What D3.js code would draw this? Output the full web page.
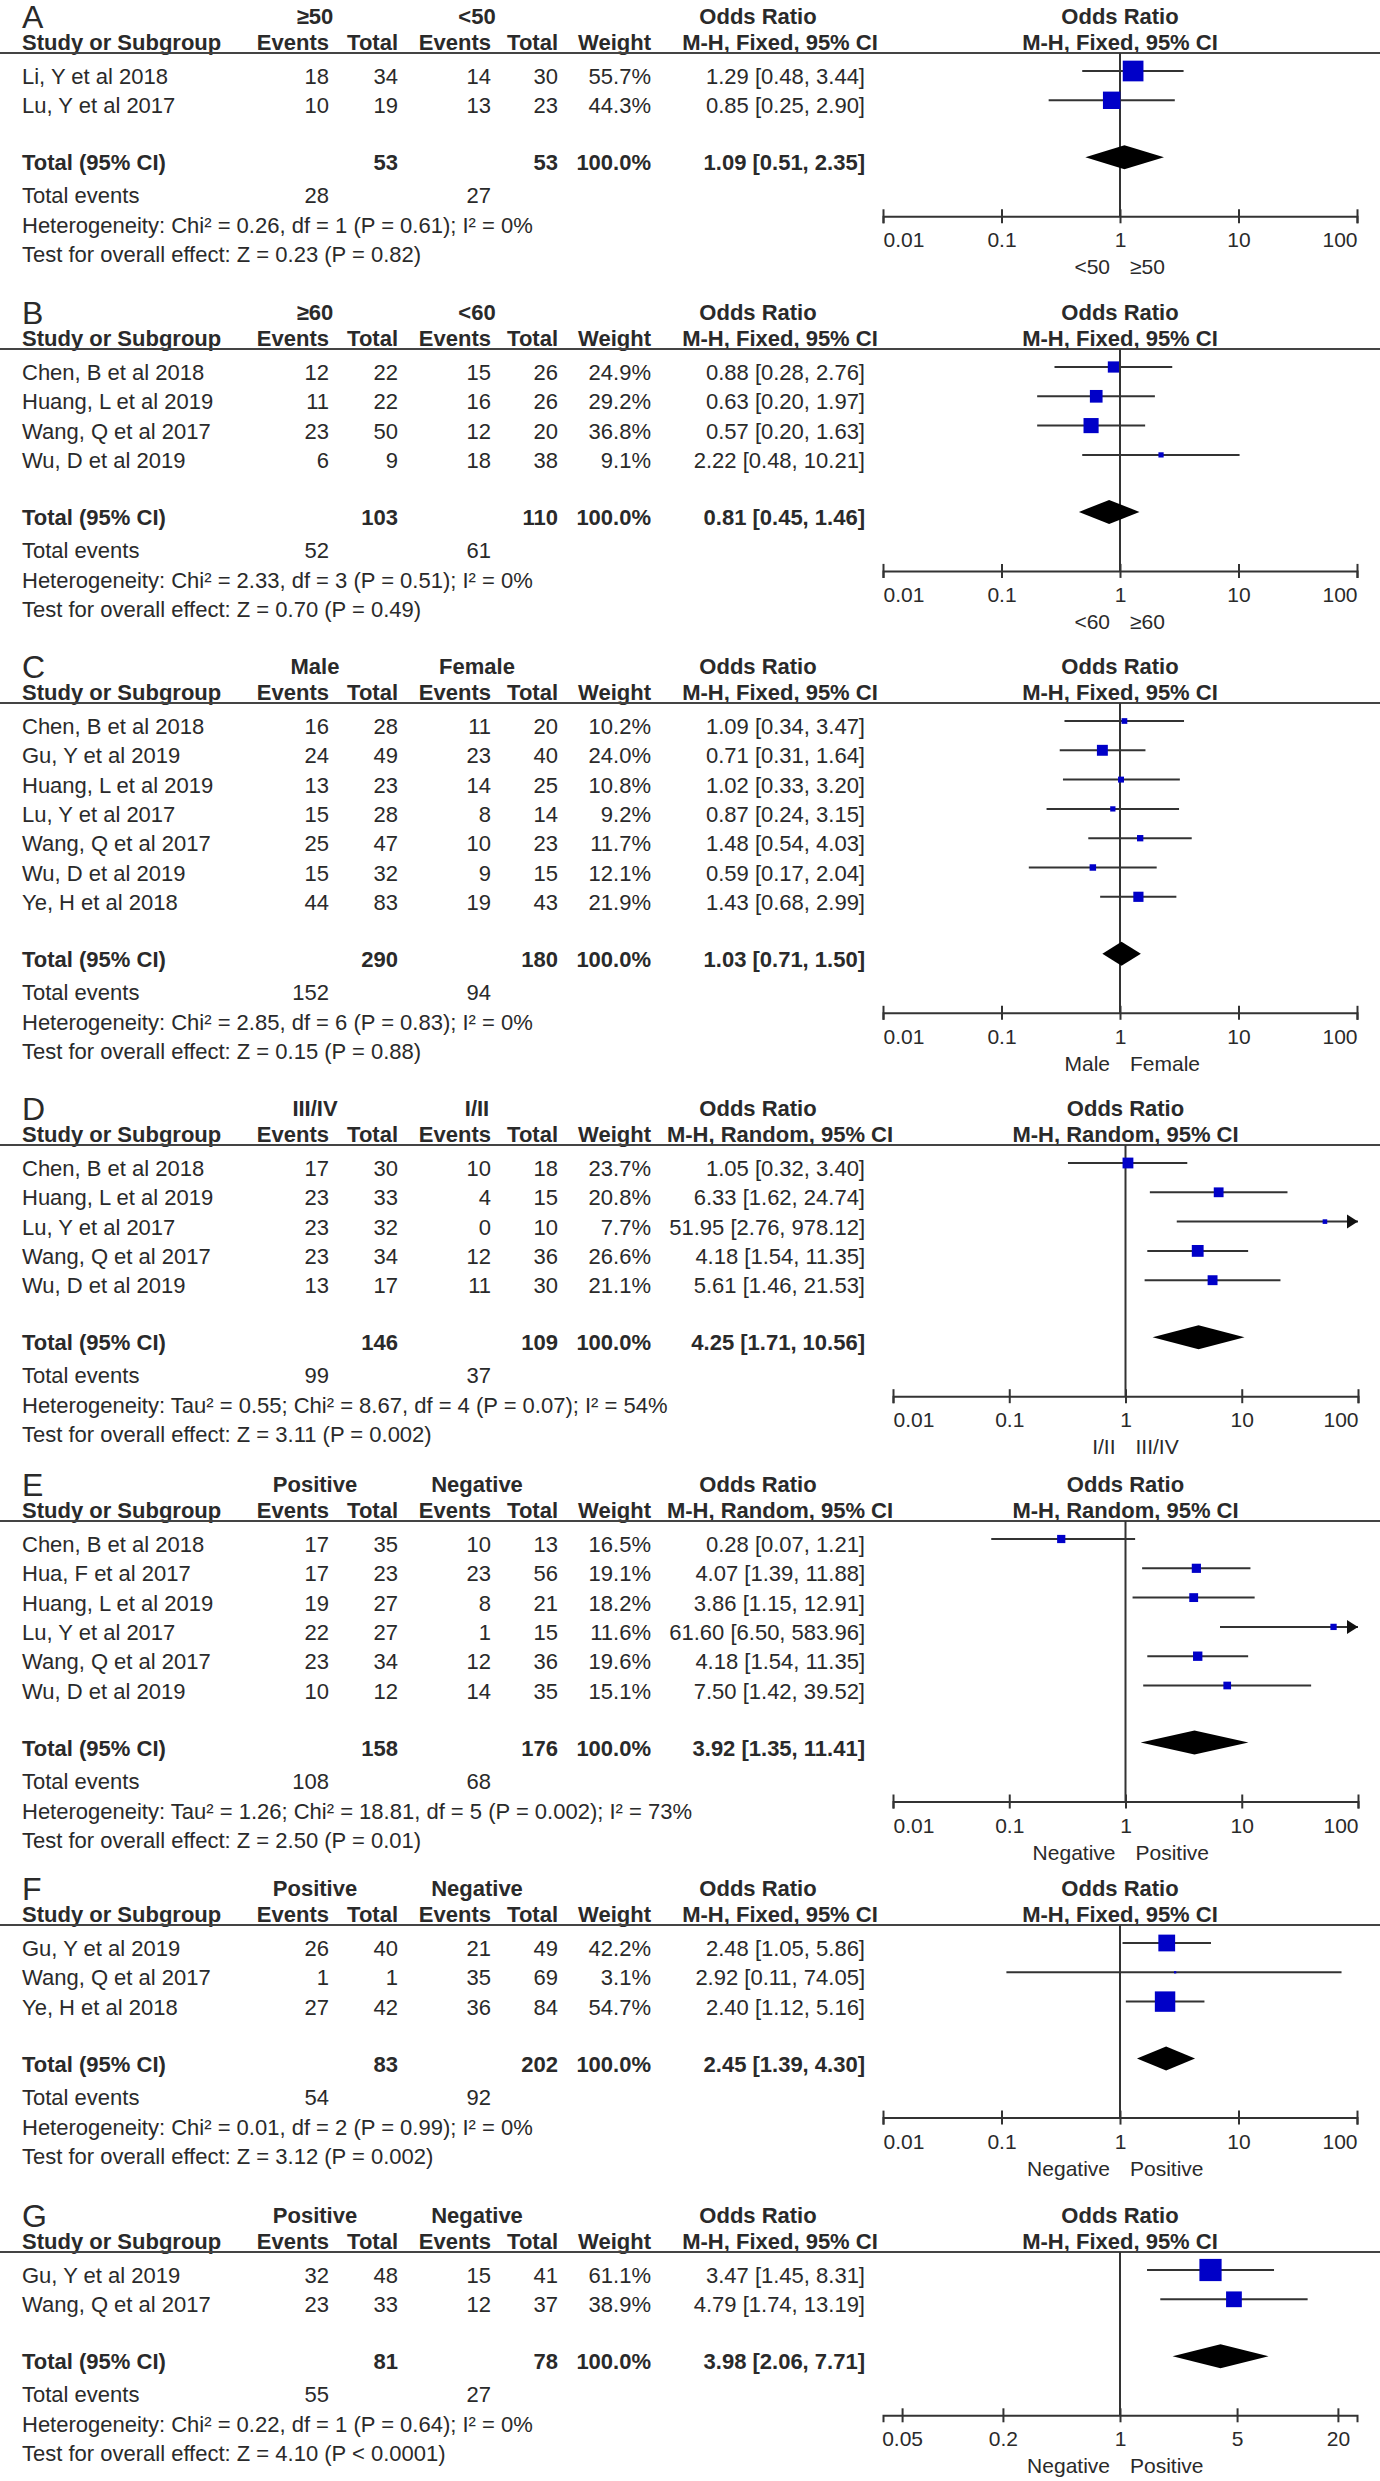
<!DOCTYPE html>
<html><head><meta charset="utf-8">
<script src="https://cdn.jsdelivr.net/npm/d3@7"></script>
<style>
body{margin:0;background:#fff}
svg{display:block}
text{font-family:"Liberation Sans",Arial,Helvetica,sans-serif;fill:#2a2a2a}
</style>
</head><body>
<svg id="c" width="1380" height="2481"></svg>
<script>
// ---------------- data ----------------
const panelLetters = ["A","B","C","D","E","F","G"];
const group1Labels = ["≥50","≥60","Male","III/IV","Positive","Positive","Positive"];
const group2Labels = ["<50","<60","Female","I/II","Negative","Negative","Negative"];
const methods = ["Fixed","Fixed","Fixed","Random","Random","Fixed","Fixed"];
const dirLeftLabels = ["<50","<60","Male","I/II","Negative","Negative","Negative"];
const dirRightLabels = ["≥50","≥60","Female","III/IV","Positive","Positive","Positive"];

const studyNames = [
  ["Li, Y et al 2018","Lu, Y et al 2017"],
  ["Chen, B et al 2018","Huang, L et al 2019","Wang, Q et al 2017","Wu, D et al 2019"],
  ["Chen, B et al 2018","Gu, Y et al 2019","Huang, L et al 2019","Lu, Y et al 2017","Wang, Q et al 2017","Wu, D et al 2019","Ye, H et al 2018"],
  ["Chen, B et al 2018","Huang, L et al 2019","Lu, Y et al 2017","Wang, Q et al 2017","Wu, D et al 2019"],
  ["Chen, B et al 2018","Hua, F et al 2017","Huang, L et al 2019","Lu, Y et al 2017","Wang, Q et al 2017","Wu, D et al 2019"],
  ["Gu, Y et al 2019","Wang, Q et al 2017","Ye, H et al 2018"],
  ["Gu, Y et al 2019","Wang, Q et al 2017"]
];
const events1 = [[18,10],[12,11,23,6],[16,24,13,15,25,15,44],[17,23,23,23,13],[17,17,19,22,23,10],[26,1,27],[32,23]];
const totals1 = [[34,19],[22,22,50,9],[28,49,23,28,47,32,83],[30,33,32,34,17],[35,23,27,27,34,12],[40,1,42],[48,33]];
const events2 = [[14,13],[15,16,12,18],[11,23,14,8,10,9,19],[10,4,0,12,11],[10,23,8,1,12,14],[21,35,36],[15,12]];
const totals2 = [[30,23],[26,26,20,38],[20,40,25,14,23,15,43],[18,15,10,36,30],[13,56,21,15,36,35],[49,69,84],[41,37]];
const weights = [[55.7,44.3],[24.9,29.2,36.8,9.1],[10.2,24.0,10.8,9.2,11.7,12.1,21.9],[23.7,20.8,7.7,26.6,21.1],[16.5,19.1,18.2,11.6,19.6,15.1],[42.2,3.1,54.7],[61.1,38.9]];
const oddsRatios = [[1.29,0.85],[0.88,0.63,0.57,2.22],[1.09,0.71,1.02,0.87,1.48,0.59,1.43],[1.05,6.33,51.95,4.18,5.61],[0.28,4.07,3.86,61.60,4.18,7.50],[2.48,2.92,2.40],[3.47,4.79]];
const ciLower = [[0.48,0.25],[0.28,0.20,0.20,0.48],[0.34,0.31,0.33,0.24,0.54,0.17,0.68],[0.32,1.62,2.76,1.54,1.46],[0.07,1.39,1.15,6.50,1.54,1.42],[1.05,0.11,1.12],[1.45,1.74]];
const ciUpper = [[3.44,2.90],[2.76,1.97,1.63,10.21],[3.47,1.64,3.20,3.15,4.03,2.04,2.99],[3.40,24.74,978.12,11.35,21.53],[1.21,11.88,12.91,583.96,11.35,39.52],[5.86,74.05,5.16],[8.31,13.19]];

const pooledTotal1 = [53,103,290,146,158,83,81];
const pooledTotal2 = [53,110,180,109,176,202,78];
const pooledOR = [1.09,0.81,1.03,4.25,3.92,2.45,3.98];
const pooledLower = [0.51,0.45,0.71,1.71,1.35,1.39,2.06];
const pooledUpper = [2.35,1.46,1.50,10.56,11.41,4.30,7.71];
const totalEvents1 = [28,52,152,99,108,54,55];
const totalEvents2 = [27,61,94,37,68,92,27];
const heterogeneityTexts = [
  "Heterogeneity: Chi² = 0.26, df = 1 (P = 0.61); I² = 0%",
  "Heterogeneity: Chi² = 2.33, df = 3 (P = 0.51); I² = 0%",
  "Heterogeneity: Chi² = 2.85, df = 6 (P = 0.83); I² = 0%",
  "Heterogeneity: Tau² = 0.55; Chi² = 8.67, df = 4 (P = 0.07); I² = 54%",
  "Heterogeneity: Tau² = 1.26; Chi² = 18.81, df = 5 (P = 0.002); I² = 73%",
  "Heterogeneity: Chi² = 0.01, df = 2 (P = 0.99); I² = 0%",
  "Heterogeneity: Chi² = 0.22, df = 1 (P = 0.64); I² = 0%"
];
const overallTexts = [
  "Test for overall effect: Z = 0.23 (P = 0.82)",
  "Test for overall effect: Z = 0.70 (P = 0.49)",
  "Test for overall effect: Z = 0.15 (P = 0.88)",
  "Test for overall effect: Z = 3.11 (P = 0.002)",
  "Test for overall effect: Z = 2.50 (P = 0.01)",
  "Test for overall effect: Z = 3.12 (P = 0.002)",
  "Test for overall effect: Z = 4.10 (P < 0.0001)"
];
const tickValueSets = [
  [0.01,0.1,1,10,100],[0.01,0.1,1,10,100],[0.01,0.1,1,10,100],[0.01,0.1,1,10,100],
  [0.01,0.1,1,10,100],[0.01,0.1,1,10,100],[0.05,0.2,1,5,20]
];
const tickLabelSets = [
  ["0.01","0.1","1","10","100"],["0.01","0.1","1","10","100"],["0.01","0.1","1","10","100"],
  ["0.01","0.1","1","10","100"],["0.01","0.1","1","10","100"],["0.01","0.1","1","10","100"],
  ["0.05","0.2","1","5","20"]
];
const axisDomains = [[0.01,100],[0.01,100],[0.01,100],[0.01,100],[0.01,100],[0.01,100],[1/26,26]];

// ---------------- layout ----------------
const panelTops = [16, 312, 666, 1108, 1484, 1888, 2215];
const plotRanges = [[883,1357],[883,1357],[883,1357],[893,1358],[893,1358],[883,1357],[883,1357]];
const ROW = 29.3;
const COL = {study:22, e1:329, t1:398, e2:491, t2:558, w:651, ci:865, g1:315, g2:477, orHead:758, mhHead:780};
const FS = 22, AFS = 21;

const svg = d3.select("#c");
const sizeScale = d3.scalePow().exponent(0.76).domain([0,100]).range([0,32.3]);
const fmt2 = d3.format(".2f");
const ciText = (o,l,h) => `${fmt2(o)} [${fmt2(l)}, ${fmt2(h)}]`;

function txt(g, x, y, s, opt={}) {
  return g.append("text").attr("x",x).attr("y",y)
    .attr("text-anchor", opt.anchor || "start")
    .style("font-size", (opt.size||FS)+"px")
    .style("font-weight", opt.bold ? "bold" : "normal")
    .text(s);
}

panelLetters.forEach((letter,k) => {
  const top = panelTops[k];
  const g = svg.append("g");
  const n = studyNames[k].length;
  const x = d3.scaleLog().domain(axisDomains[k]).range(plotRanges[k]);
  const rowY = d3.scaleLinear().domain([0,1]).range([top+55, top+55+ROW]);
  const lineY = top + 37;
  const totalY = rowY(n-1) + 57;
  const axisY = totalY + 59;
  const plotMid = (plotRanges[k][0] + plotRanges[k][1]) / 2;
  const mh = `M-H, ${methods[k]}, 95% CI`;

  // header row 1
  txt(g, COL.study, top+12, letter, {size:32});
  txt(g, COL.g1, top+8, group1Labels[k], {bold:true, anchor:"middle"});
  txt(g, COL.g2, top+8, group2Labels[k], {bold:true, anchor:"middle"});
  txt(g, COL.orHead, top+8, "Odds Ratio", {bold:true, anchor:"middle"});
  txt(g, plotMid, top+8, "Odds Ratio", {bold:true, anchor:"middle"});
  // header row 2
  const hb = top + 34;
  txt(g, COL.study, hb, "Study or Subgroup", {bold:true});
  txt(g, COL.e1, hb, "Events", {bold:true, anchor:"end"});
  txt(g, COL.t1, hb, "Total", {bold:true, anchor:"end"});
  txt(g, COL.e2, hb, "Events", {bold:true, anchor:"end"});
  txt(g, COL.t2, hb, "Total", {bold:true, anchor:"end"});
  txt(g, COL.w, hb, "Weight", {bold:true, anchor:"end"});
  txt(g, COL.mhHead, hb, mh, {bold:true, anchor:"middle"});
  txt(g, plotMid, hb, mh, {bold:true, anchor:"middle"});
  g.append("line").attr("x1",0).attr("x2",1380).attr("y1",lineY).attr("y2",lineY)
    .attr("stroke","#444").attr("stroke-width",2);

  // study rows
  studyNames[k].forEach((name,i) => {
    const yb = rowY(i) + 13;
    txt(g, COL.study, yb, name);
    txt(g, COL.e1, yb, events1[k][i], {anchor:"end"});
    txt(g, COL.t1, yb, totals1[k][i], {anchor:"end"});
    txt(g, COL.e2, yb, events2[k][i], {anchor:"end"});
    txt(g, COL.t2, yb, totals2[k][i], {anchor:"end"});
    txt(g, COL.w, yb, weights[k][i].toFixed(1)+"%", {anchor:"end"});
    txt(g, COL.ci, yb, ciText(oddsRatios[k][i], ciLower[k][i], ciUpper[k][i]), {anchor:"end"});
  });

  // totals
  const tb = totalY + 13;
  txt(g, COL.study, tb, "Total (95% CI)", {bold:true});
  txt(g, COL.t1, tb, pooledTotal1[k], {bold:true, anchor:"end"});
  txt(g, COL.t2, tb, pooledTotal2[k], {bold:true, anchor:"end"});
  txt(g, COL.w, tb, "100.0%", {bold:true, anchor:"end"});
  txt(g, COL.ci, tb, ciText(pooledOR[k], pooledLower[k], pooledUpper[k]), {bold:true, anchor:"end"});
  txt(g, COL.study, tb+33, "Total events");
  txt(g, COL.e1, tb+33, totalEvents1[k], {anchor:"end"});
  txt(g, COL.e2, tb+33, totalEvents2[k], {anchor:"end"});
  txt(g, COL.study, tb+63, heterogeneityTexts[k]);
  txt(g, COL.study, tb+92, overallTexts[k]);

  // reference line at OR = 1
  g.append("line").attr("x1",x(1)).attr("x2",x(1)).attr("y1",lineY).attr("y2",axisY)
    .attr("stroke","#333").attr("stroke-width",2);

  // CI lines, squares, arrows
  const [dmin, dmax] = axisDomains[k];
  studyNames[k].forEach((name,i) => {
    const yc = rowY(i);
    const lo = Math.max(ciLower[k][i], dmin), hi = Math.min(ciUpper[k][i], dmax);
    g.append("line").attr("x1",x(lo)).attr("x2",x(hi)).attr("y1",yc).attr("y2",yc)
      .attr("stroke","#333").attr("stroke-width",2);
    if (ciUpper[k][i] > dmax) {
      const xe = x(dmax);
      g.append("path").attr("d",`M${xe-11},${yc-7}L${xe},${yc}L${xe-11},${yc+7}Z`).attr("fill","#111");
    }
    if (ciLower[k][i] < dmin) {
      const xs = x(dmin);
      g.append("path").attr("d",`M${xs+11},${yc-7}L${xs},${yc}L${xs+11},${yc+7}Z`).attr("fill","#111");
    }
    const s = sizeScale(weights[k][i]);
    g.append("rect").attr("x",x(oddsRatios[k][i])-s/2).attr("y",yc-s/2)
      .attr("width",s).attr("height",s).attr("fill","#0000c8");
  });

  // pooled diamond
  g.append("path")
    .attr("d",`M${x(pooledLower[k])},${totalY}L${x(pooledOR[k])},${totalY-12}L${x(pooledUpper[k])},${totalY}L${x(pooledOR[k])},${totalY+12}Z`)
    .attr("fill","#000");

  // axis
  const ax = g.append("g").attr("transform",`translate(0,${axisY})`)
    .call(d3.axisBottom(x).tickValues(tickValueSets[k])
      .tickFormat((d,j) => tickLabelSets[k][j]).tickSizeOuter(0).tickSize(7));
  ax.select(".domain").attr("stroke","#333").attr("stroke-width",2);
  ax.selectAll(".tick line").attr("y1",-7).attr("y2",7).attr("stroke","#333").attr("stroke-width",2);
  const nt = tickValueSets[k].length;
  ax.selectAll(".tick text").attr("y",31).attr("dy",null)
    .style("font-size",AFS+"px").style("font-family","'Liberation Sans',Arial,sans-serif")
    .attr("fill","#2a2a2a")
    .attr("text-anchor",(d,j) => (j===0 && k<6) ? "start" : (j===nt-1 && k<6) ? "end" : "middle");

  // direction labels
  txt(g, x(1)-10, axisY+58, dirLeftLabels[k], {anchor:"end", size:AFS});
  txt(g, x(1)+10, axisY+58, dirRightLabels[k], {anchor:"start", size:AFS});
});
</script>
</body></html>
